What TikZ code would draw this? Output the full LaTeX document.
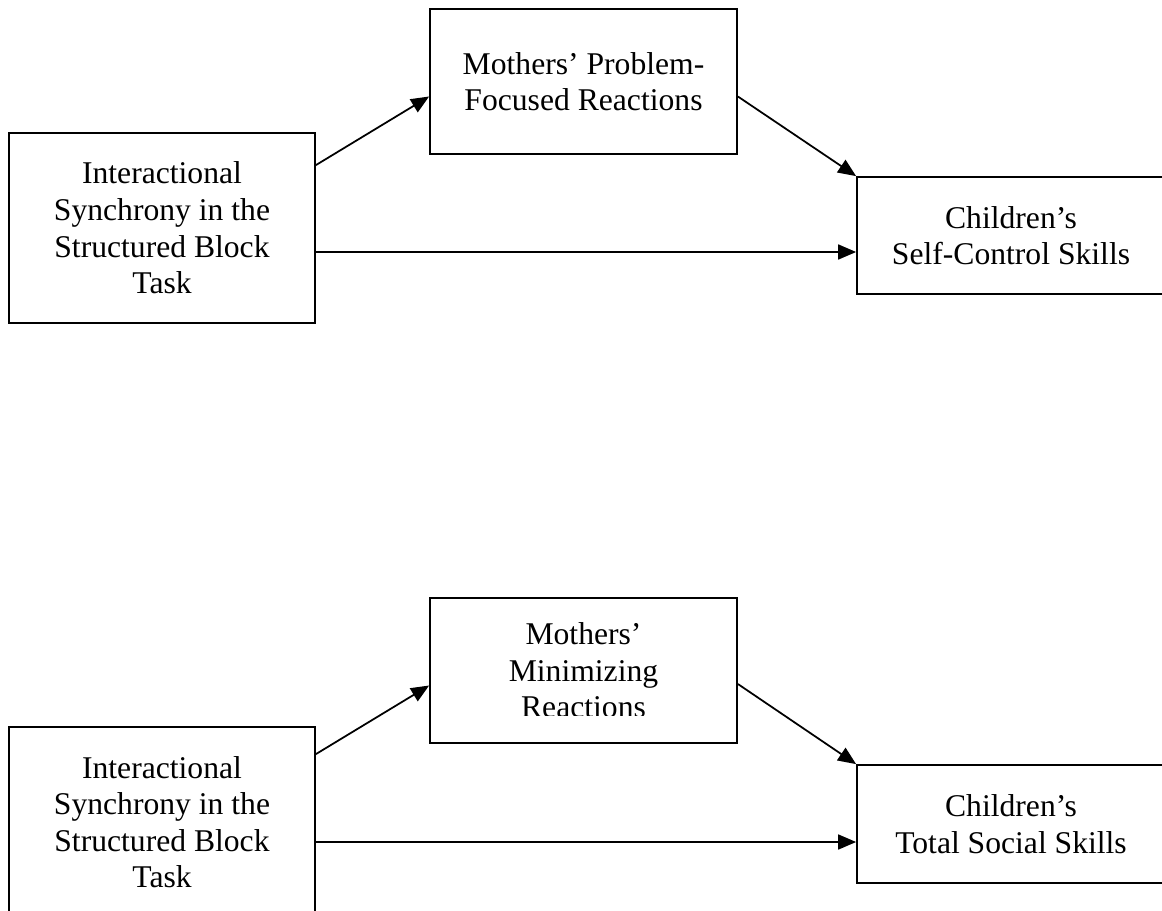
\documentclass[tikz,border=0pt]{standalone}
\usepackage{fontspec}
\setmainfont{Liberation Serif}
\usepackage{tikz}
\usetikzlibrary{arrows.meta, positioning, calc}

\begin{document}
\begin{tikzpicture}[
    model/.style={draw, line width=1pt, align=center, inner sep=0pt, font=\fontsize{18}{20.8}\selectfont},
    link/.style={-{Triangle[length=0.36cm, width=0.3cm]}, line width=1pt}
]
    \useasboundingbox (0, 0) rectangle (23.24, 18.2);

    % Self-control model
    \node[model, minimum width=6.12cm, minimum height=3.8cm] (sync1) at (3.24, 13.64) {Interactional\\Synchrony in the\\Structured Block\\Task};
    \node[model, minimum width=6.14cm, minimum height=2.9cm] (problem) at (11.67, 16.57) {Mothers’ Problem-\\Focused Reactions};
    \node[model, minimum width=6.16cm, minimum height=2.34cm] (selfctrl) at (20.22, 13.49) {Children’s\\Self-Control Skills};

    \draw[link] ([yshift=-0.66cm]sync1.north east) -- ([yshift=-0.3cm]problem.west);
    \draw[link] ([yshift=-0.3cm]problem.east) -- (selfctrl.north west);
    \draw[link] ([yshift=-0.48cm]sync1.east) -- ([yshift=-0.48cm]sync1.east -| selfctrl.west);

    % Social skills model
    \node[model, minimum width=6.12cm, minimum height=3.8cm] (sync2) at (3.24, 1.76) {Interactional\\Synchrony in the\\Structured Block\\Task};
    \node[model, minimum width=6.14cm, minimum height=2.9cm] (minimize) at (11.67, 4.79) {};
    \begin{scope}
        \clip (minimize.north west) rectangle ([yshift=-0.89cm]minimize.east);
        \node[model, draw=none] (minimizetext) at (minimize.center) {Mothers’\\Minimizing\\Reactions};
    \end{scope}
    \node[model, minimum width=6.16cm, minimum height=2.36cm] (social) at (20.22, 1.72) {Children’s\\Total Social Skills};

    \draw[link] ([yshift=-0.56cm]sync2.north east) -- ([yshift=-0.3cm]minimize.west);
    \draw[link] ([yshift=-0.27cm]minimize.east) -- (social.north west);
    \draw[link] ([yshift=-0.4cm]sync2.east) -- ([yshift=-0.4cm]sync2.east -| social.west);
\end{tikzpicture}
\end{document}
